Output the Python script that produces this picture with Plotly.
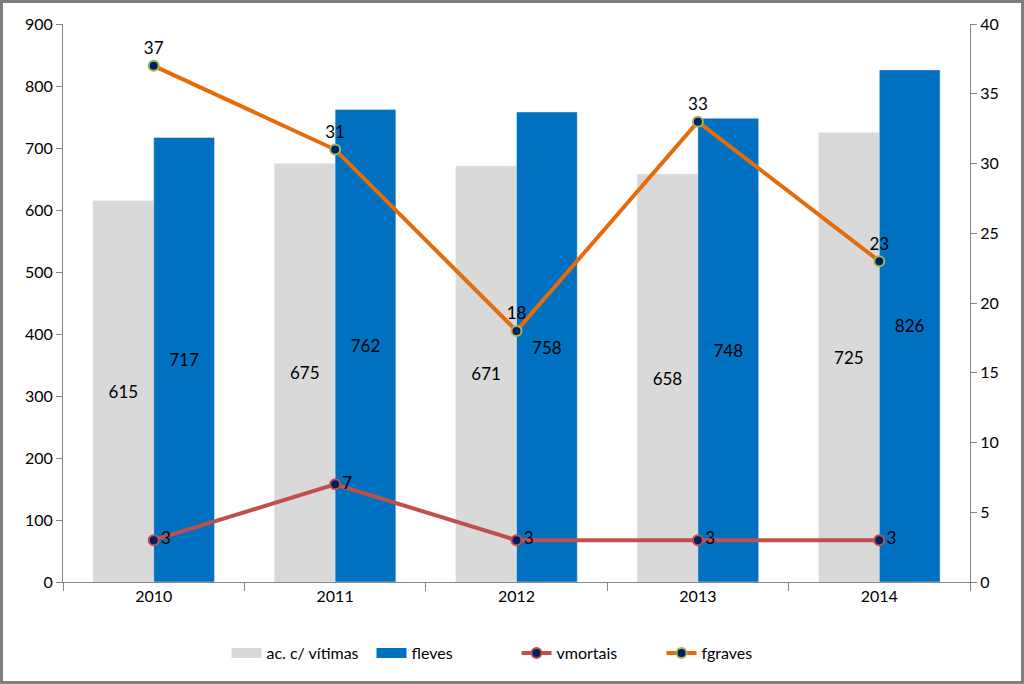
import plotly.graph_objects as go

years = ["2010", "2011", "2012", "2013", "2014"]
ac_vitimas = [615, 675, 671, 658, 725]
fleves = [717, 762, 758, 748, 826]
vmortais = [3, 7, 3, 3, 3]
fgraves = [37, 31, 18, 33, 23]

W, H = 1024, 684
ml, mr, mt, mb = 63, 54, 24, 102
pw, ph = W - ml - mr, H - mt - mb

FONT = "Lato"
GRAY = "#D9D9D9"
BLUE = "#0070C0"
fig = go.Figure()
fig.add_trace(go.Bar(x=years, y=ac_vitimas, name="ac. c/ vítimas", marker_color=GRAY, showlegend=False,
                     text=ac_vitimas, textposition="inside", insidetextanchor="middle",
                     textangle=0, constraintext="none",
                     textfont=dict(color="black", size=17, family=FONT)))
fig.add_trace(go.Bar(x=years, y=fleves, name="fleves", marker_color=BLUE, showlegend=False,
                     text=fleves, textposition="inside", insidetextanchor="middle",
                     textangle=0, constraintext="none",
                     textfont=dict(color="black", size=17, family=FONT)))
# legend proxies for bars (wide boxes)
fig.add_trace(go.Scatter(x=[None], y=[None], name="ac. c/ vítimas", mode="lines",
                         line=dict(color=GRAY, width=13)))
fig.add_trace(go.Scatter(x=[None], y=[None], name="fleves", mode="lines",
                         line=dict(color=BLUE, width=13)))
fig.add_trace(go.Scatter(x=years, y=vmortais, name="vmortais", yaxis="y2", mode="lines+markers+text",
                         line=dict(color="#C0504D", width=4),
                         marker=dict(color="#002060", size=10, line=dict(color="#C0504D", width=2)),
                         text=vmortais, textposition="middle right",
                         textfont=dict(color="black", size=17, family=FONT)))
fig.add_trace(go.Scatter(x=years, y=fgraves, name="fgraves", yaxis="y2", mode="lines+markers+text",
                         line=dict(color="#E46C0A", width=4),
                         marker=dict(color="#002060", size=10, line=dict(color="#9BBB59", width=2)),
                         text=fgraves, textposition="top center",
                         textfont=dict(color="black", size=17, family=FONT)))

fig.update_layout(
    width=W, height=H,
    margin=dict(l=ml, r=mr, t=mt, b=mb),
    paper_bgcolor="white", plot_bgcolor="white",
    font=dict(family=FONT, size=16, color="black"),
    barmode="group", bargap=0.33, bargroupgap=0,
    showlegend=True,
    legend=dict(orientation="h", x=0.5, xanchor="center", y=-(653 - (mt + ph)) / ph, yanchor="middle",
                font=dict(size=16, family=FONT), traceorder="normal", entrywidth=100,
                entrywidthmode="pixels"),
    xaxis=dict(showline=True, linecolor="#868686", linewidth=1, ticks="outside", tickson="boundaries",
               ticklen=8, tickcolor="#868686", showgrid=False),
    yaxis=dict(range=[0, 900], dtick=100, showline=True, linecolor="#868686", linewidth=1,
               ticks="outside", ticklen=6, tickcolor="#868686", showgrid=False, zeroline=False),
    yaxis2=dict(range=[0, 40], dtick=5, overlaying="y", side="right", showline=True,
                linecolor="#868686", linewidth=1, ticks="outside", ticklen=6, tickcolor="#868686",
                showgrid=False, zeroline=False),
    shapes=[dict(type="rect", xref="paper", yref="paper",
                 x0=-(ml - 1.5) / pw, x1=1 + (mr - 1.5) / pw,
                 y0=-(mb - 1.5) / ph, y1=1 + (mt - 1.5) / ph,
                 line=dict(color="#7F7F7F", width=3), layer="above")],
)

fig.write_html("out.html", config={"displayModeBar": False},
               post_script="document.body.style.margin='0';document.body.style.overflow='hidden';")
